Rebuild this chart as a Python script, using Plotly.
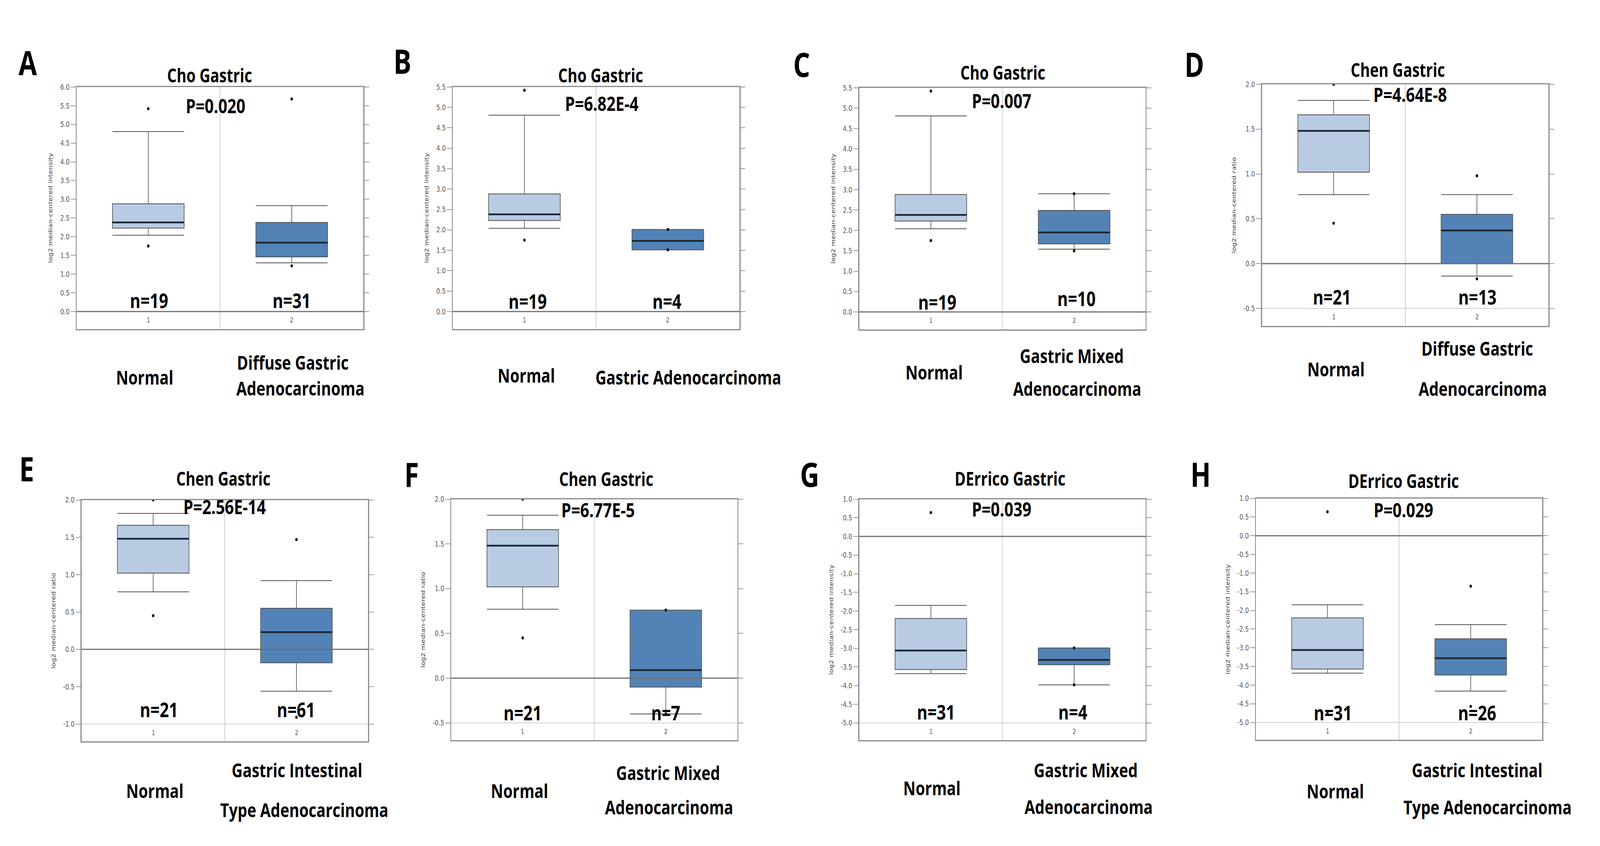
import numpy as np
import plotly.graph_objects as go

W, H = 5160, 2167

# ---------------- data ----------------
panel_letters = ["A", "B", "C", "D", "E", "F", "G", "H"]
dataset_titles = ["Cho Gastric", "Cho Gastric", "Cho Gastric", "Chen Gastric",
                  "Chen Gastric", "Chen Gastric", "DErrico Gastric", "DErrico Gastric"]
p_values = ["P=0.020", "P=6.82E-4", "P=0.007", "P=4.64E-8",
            "P=2.56E-14", "P=6.77E-5", "P=0.039", "P=0.029"]
normal_label = "Normal"
tumor_labels = [["Diffuse Gastric", "Adenocarcinoma"],
                ["Gastric Adenocarcinoma"],
                ["Gastric Mixed", "Adenocarcinoma"],
                ["Diffuse Gastric", "Adenocarcinoma"],
                ["Gastric Intestinal", "Type Adenocarcinoma"],
                ["Gastric Mixed", "Adenocarcinoma"],
                ["Gastric Mixed", "Adenocarcinoma"],
                ["Gastric Intestinal", "Type Adenocarcinoma"]]
y_titles = ["log2 median-centered intensity"] * 3 + ["log2 median-centered ratio"] * 3 + \
           ["log2 median-centered intensity"] * 2
x_tick_labels = ["1", "2"]
n_normal = [19, 19, 19, 21, 21, 21, 31, 31]
n_tumor = [31, 4, 10, 13, 61, 7, 4, 26]
y_tick_top = [6.0, 5.5, 5.5, 2.0, 2.0, 2.0, 1.0, 1.0]
y_tick_bottom = [0.0, 0.0, 0.0, -0.5, -1.0, -0.5, -5.0, -5.0]
y_tick_step = 0.5

normal_lowerfence = [2.04, 2.04, 2.04, 0.77, 0.77, 0.77, -3.68, -3.68]
normal_q1 = [2.23, 2.23, 2.23, 1.02, 1.02, 1.02, -3.57, -3.57]
normal_median = [2.38, 2.38, 2.38, 1.48, 1.48, 1.48, -3.06, -3.06]
normal_q3 = [2.88, 2.88, 2.88, 1.66, 1.66, 1.66, -2.20, -2.20]
normal_upperfence = [4.81, 4.81, 4.81, 1.82, 1.82, 1.82, -1.85, -1.85]
normal_points = [[5.42, 1.75], [5.42, 1.75], [5.42, 1.75], [2.00, 0.45],
                 [2.00, 0.45], [2.00, 0.45], [0.64, -4.76], [0.64, -4.76]]

tumor_lowerfence = [1.30, 1.51, 1.54, -0.14, -0.56, -0.40, -3.98, -4.16]
tumor_q1 = [1.46, 1.51, 1.67, 0.00, -0.18, -0.10, -3.44, -3.73]
tumor_median = [1.84, 1.73, 1.95, 0.37, 0.23, 0.09, -3.31, -3.28]
tumor_q3 = [2.38, 2.01, 2.49, 0.55, 0.55, 0.76, -2.99, -2.76]
tumor_upperfence = [2.83, 2.01, 2.90, 0.77, 0.92, 0.76, -2.99, -2.38]
tumor_points = [[5.68, 1.22], [2.01, 1.51], [2.90, 1.50], [0.98, -0.17],
                [1.47, -0.91], [0.76, -0.40], [-2.99, -3.98], [-1.35, -4.57]]

# ---------------- layout (pixel positions) ----------------
panel_px = [
    dict(box=(247, 213, 1172, 836), letter=(90, 149), title=(676, 182), p=(695, 260),
         n1=(481, 761), n2=(940, 761), normal=(466, 960), tumor=[(944, 922), (969, 988)]),
    dict(box=(1460, 213, 2385, 836), letter=(1298, 145), title=(1937, 182), p=(1940, 254),
         n1=(1701, 763), n2=(2151, 763), normal=(1697, 955), tumor=[(2220, 960)]),
    dict(box=(2771, 215, 3695, 837), letter=(2585, 153), title=(3234, 175), p=(3230, 247),
         n1=(3022, 765), n2=(3471, 756), normal=(3012, 947), tumor=[(3456, 905), (3474, 989)]),
    dict(box=(4070, 206, 4994, 828), letter=(3852, 153), title=(4508, 168), p=(4547, 231),
         n1=(4295, 752), n2=(4764, 752), normal=(4308, 939), tumor=[(4764, 885), (4782, 989)]),
    dict(box=(263, 1276, 1187, 1898), letter=(86, 1195), title=(720, 1221), p=(724, 1293),
         n1=(512, 1815), n2=(954, 1815), normal=(499, 2024), tumor=[(958, 1971), (981, 2074)]),
    dict(box=(1455, 1274, 2378, 1895), letter=(1327, 1209), title=(1955, 1222), p=(1928, 1301),
         n1=(1685, 1823), n2=(2147, 1823), normal=(1675, 2024), tumor=[(2154, 1978), (2158, 2066)]),
    dict(box=(2771, 1274, 3695, 1895), letter=(2611, 1209), title=(3257, 1221), p=(3230, 1299),
         n1=(3018, 1821), n2=(3460, 1821), normal=(3006, 2017), tumor=[(3501, 1971), (3511, 2065)]),
    dict(box=(4050, 1272, 4974, 1894), letter=(3872, 1209), title=(4526, 1227), p=(4526, 1301),
         n1=(4298, 1823), n2=(4763, 1823), normal=(4306, 2025), tumor=[(4764, 1971), (4797, 2066)]),
]

LIGHT = "#b8cbe3"
DARK = "#5383b6"
BOXLINE = "#505050"
FRAME = "#8a8a8a"
TXT_FONT = "Open Sans"
TICK_FONT = "DejaVu Sans"
BAND = 0.078


def px2paper(x, y):
    return x / W, 1 - y / H


fig = go.Figure()
annotations = []
shapes = []


def add_text(text, xy, size, bold=True, xanchor="center", color="#000"):
    x, y = px2paper(*xy)
    annotations.append(dict(
        text=f"<b>{text}</b>" if bold else text, x=x, y=y, xref="paper", yref="paper",
        xanchor=xanchor, yanchor="middle", showarrow=False,
        font=dict(family=TXT_FONT, size=size, color=color)))


for i in range(8):
    k = i + 1
    sfx = "" if k == 1 else str(k)
    xr, yr = f"x{sfx}", f"y{sfx}"
    pp = panel_px[i]
    l, t, r, b = pp["box"]
    x0, y1 = px2paper(l, t)
    x1, y0 = px2paper(r, b)

    hi, lo = y_tick_top[i], y_tick_bottom[i]
    tickvals = np.round(np.arange(hi, lo - 1e-9, -y_tick_step), 2)
    ticktext = [f"{v:.1f}" for v in tickvals]
    yrange = [lo - BAND * (hi - lo), hi]

    positions = [1, 2]
    stats = [
        (normal_lowerfence[i], normal_q1[i], normal_median[i], normal_q3[i],
         normal_upperfence[i], normal_points[i], LIGHT),
        (tumor_lowerfence[i], tumor_q1[i], tumor_median[i], tumor_q3[i],
         tumor_upperfence[i], tumor_points[i], DARK),
    ]
    for pos, (lf, q1, med, q3, uf, pts, col) in zip(positions, stats):
        fig.add_trace(go.Box(
            x=[pos], lowerfence=[lf], q1=[q1], median=[med], q3=[q3], upperfence=[uf],
            width=0.5, whiskerwidth=1, fillcolor=col, boxpoints=False,
            line=dict(color=BOXLINE, width=2), showlegend=False, xaxis=xr, yaxis=yr,
            hoverinfo="skip"))
        fig.add_trace(go.Scatter(
            x=[pos - 0.25, pos + 0.25], y=[med, med], mode="lines",
            line=dict(color="#1b2733", width=4.5), showlegend=False,
            xaxis=xr, yaxis=yr, hoverinfo="skip"))
        fig.add_trace(go.Scatter(
            x=[pos] * len(pts), y=pts, mode="markers",
            marker=dict(color="#111", size=8), showlegend=False,
            xaxis=xr, yaxis=yr, hoverinfo="skip"))

    fig.layout[f"xaxis{sfx}"] = dict(
        domain=[x0, x1], anchor=yr, range=[0.5, 2.5], showticklabels=False, ticks="",
        showgrid=False, zeroline=False, showline=True, mirror=True,
        linecolor=FRAME, linewidth=2.5, fixedrange=True)
    fig.layout[f"yaxis{sfx}"] = dict(
        domain=[y0, y1], anchor=xr, range=yrange, tickmode="array",
        tickvals=list(tickvals), ticktext=ticktext, ticks="outside", ticklen=16,
        tickwidth=2, tickcolor="#9a9a9a", showline=True, mirror="ticks",
        linecolor=FRAME, linewidth=2.5, showgrid=False, zeroline=False,
        tickfont=dict(family=TICK_FONT, size=19, color="#555"),
        title=dict(text=y_titles[i], standoff=20,
                   font=dict(family=TICK_FONT, size=18, color="#444")),
        fixedrange=True)

    # vertical separator between categories
    shapes.append(dict(type="line", xref=xr, yref=f"{yr} domain", x0=1.5, x1=1.5,
                       y0=0, y1=1, line=dict(color="#c4c4c4", width=2), layer="below"))
    # lowest tick gridline
    if lo != 0:
        shapes.append(dict(type="line", xref=f"{xr} domain", yref=yr, x0=0, x1=1,
                           y0=lo, y1=lo, line=dict(color="#cfcfcf", width=2), layer="below"))
    # zero line
    shapes.append(dict(type="line", xref=f"{xr} domain", yref=yr, x0=0, x1=1,
                       y0=0, y1=0, line=dict(color="#6e6e6e", width=3), layer="above"))

    # category index labels inside the frame
    for pos, lab in zip(positions, x_tick_labels):
        annotations.append(dict(text=lab, x=pos, y=BAND / (1 + BAND) / 2, xref=xr,
                                yref=f"{yr} domain", showarrow=False, xanchor="center",
                                yanchor="middle",
                                font=dict(family=TICK_FONT, size=17, color="#555")))

    add_text(panel_letters[i], pp["letter"], 86)
    add_text(dataset_titles[i], pp["title"], 48)
    add_text(p_values[i], pp["p"], 51)
    add_text(f"n={n_normal[i]}", pp["n1"], 52)
    add_text(f"n={n_tumor[i]}", pp["n2"], 52)
    add_text(normal_label, pp["normal"], 49)
    for line_txt, xy in zip(tumor_labels[i], pp["tumor"]):
        add_text(line_txt, xy, 49)

fig.update_layout(
    width=W, height=H, margin=dict(l=0, r=0, t=0, b=0),
    paper_bgcolor="white", plot_bgcolor="white",
    annotations=annotations, shapes=shapes, showlegend=False)

# Fit the fixed-size figure exactly into the browser viewport.
FIT_JS = """
(function(){
  var gd = document.getElementById('{plot_id}');
  document.documentElement.style.margin = '0';
  document.body.style.margin = '0';
  document.documentElement.style.overflow = 'hidden';
  document.body.style.overflow = 'hidden';
  var wrap = gd.parentElement;
  wrap.style.width = '100vw';
  wrap.style.height = '100vh';
  wrap.style.overflow = 'hidden';
  var sx = window.innerWidth / %d, sy = window.innerHeight / %d;
  gd.style.transformOrigin = '0 0';
  gd.style.transform = 'scale(' + sx + ',' + sy + ')';
})();
""" % (W, H)

fig.write_html("out.html", config={"responsive": False, "displayModeBar": False},
               post_script=FIT_JS)
